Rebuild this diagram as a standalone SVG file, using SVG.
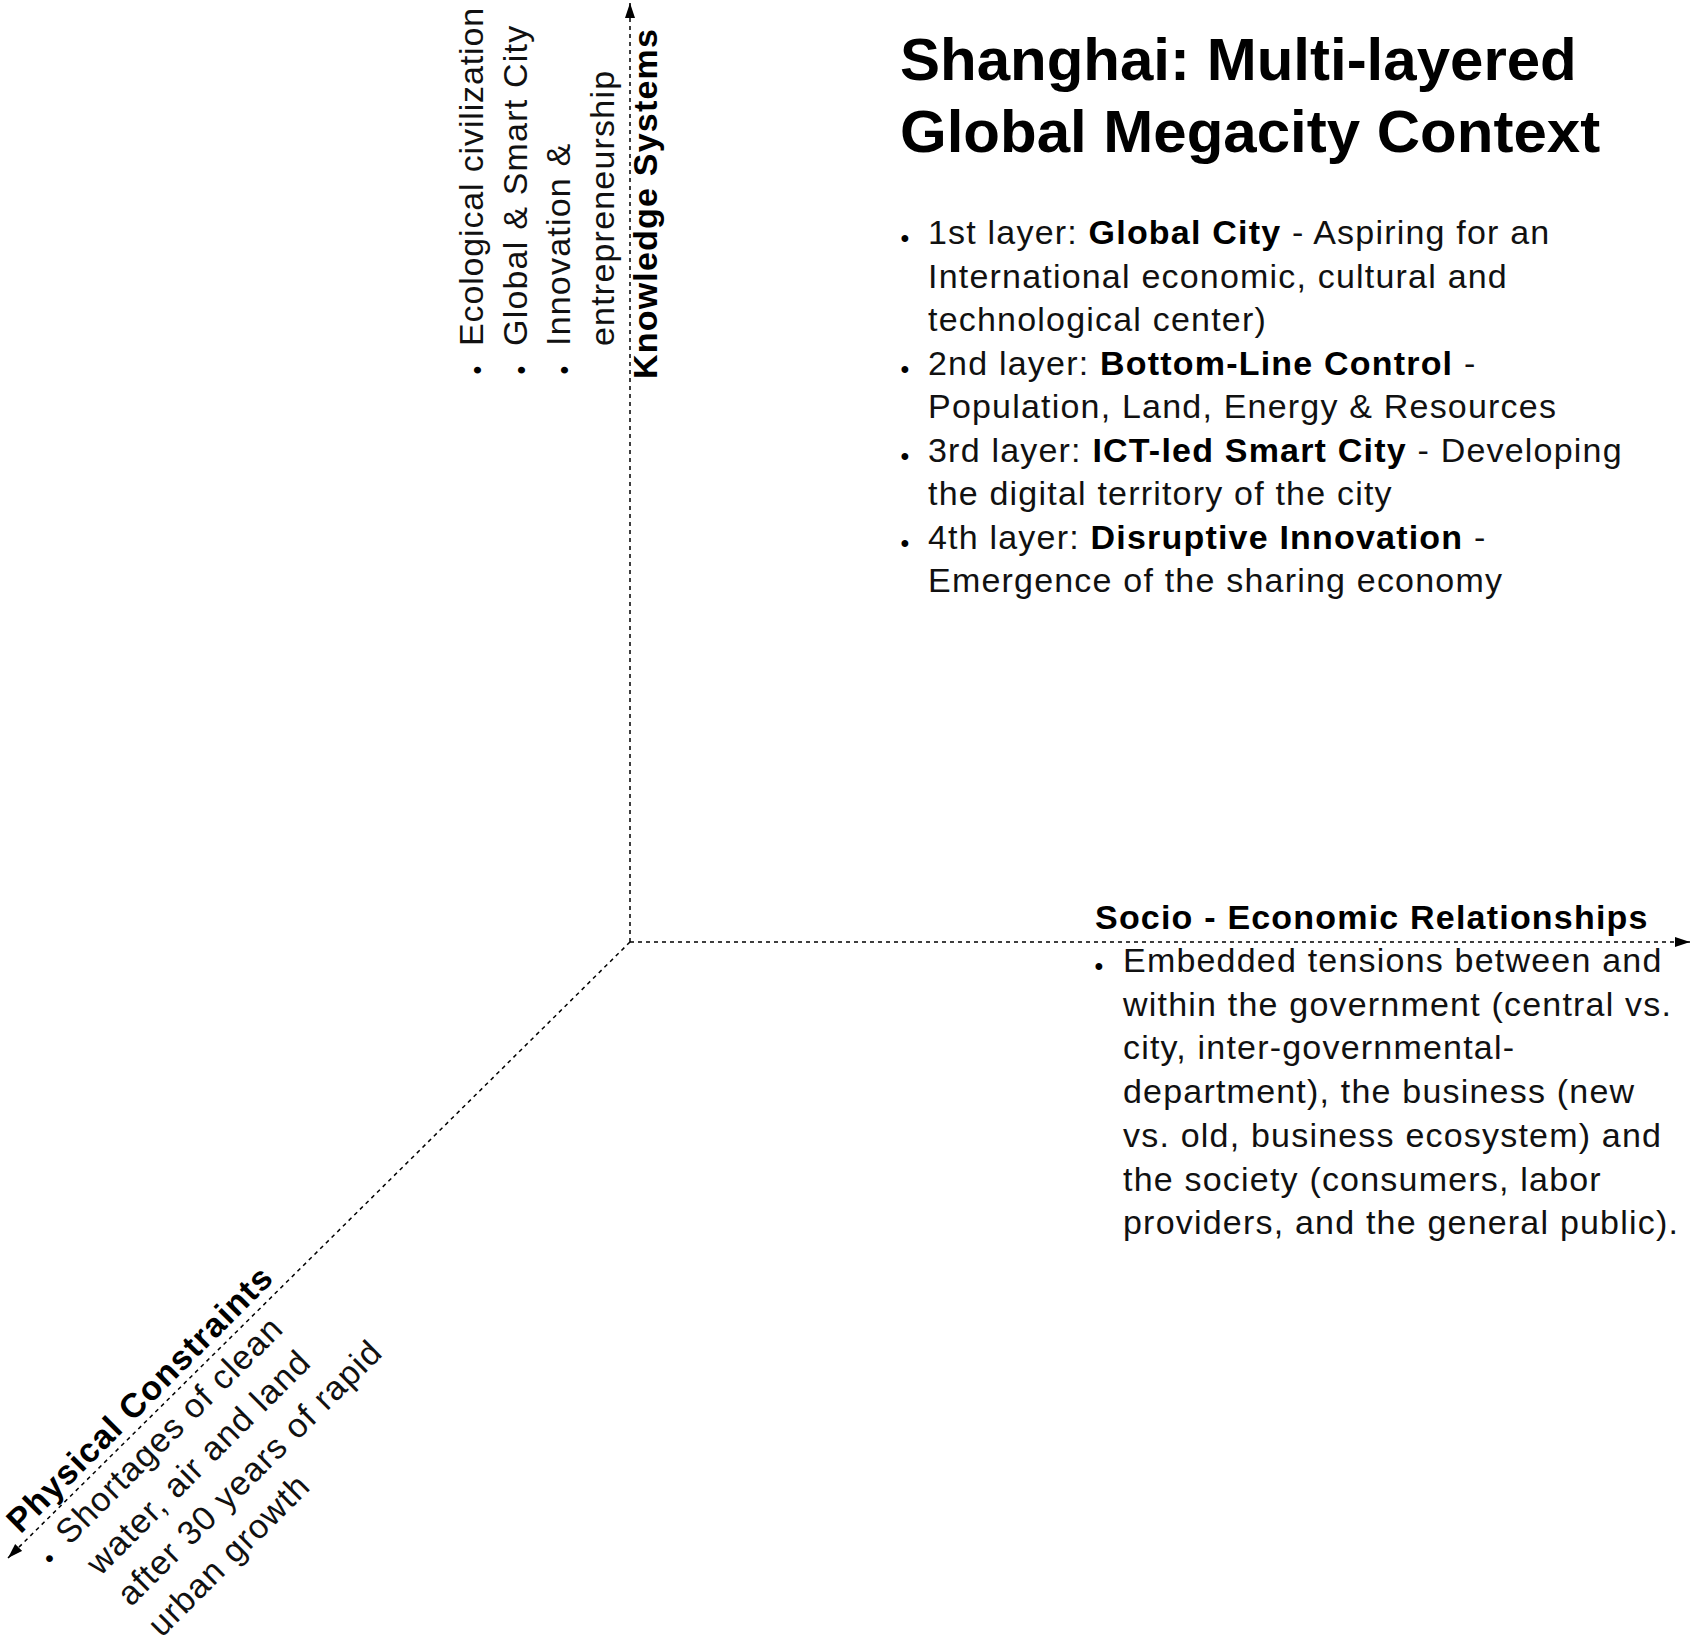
<svg xmlns="http://www.w3.org/2000/svg" width="1693" height="1640" viewBox="0 0 1693 1640">
<style>
.t{font-family:"Liberation Sans",Arial,Helvetica,sans-serif;fill:#111}
.b{font-size:34px;letter-spacing:1.2px}
.tight{letter-spacing:0.85px}
.hb{font-weight:bold;fill:#000}
.title{font-size:60px;font-weight:bold;fill:#000}
.bul{font-size:25px;fill:#000}
.ax{stroke:#000;stroke-width:1.5;stroke-dasharray:4 4;fill:none}
</style>
<defs>
<marker id="arr" markerUnits="userSpaceOnUse" markerWidth="16" markerHeight="11" refX="15" refY="5" orient="auto">
<path d="M0,0 L15,5 L0,10 Z" fill="#000"/>
</marker>
</defs>
<rect width="1693" height="1640" fill="#fff"/>
<g id="connectors">
<line class="ax" x1="630" y1="942" x2="630" y2="3" marker-end="url(#arr)"/>
<line class="ax" x1="630" y1="942" x2="1690" y2="942" marker-end="url(#arr)"/>
<line class="ax" x1="630" y1="942" x2="8" y2="1558" marker-end="url(#arr)"/>
</g>
<g id="title" class="t">
<text class="t title" x="900" y="80">Shanghai: Multi-layered</text>
<text class="t title" x="900" y="152">Global Megacity Context</text>
</g>
<g id="layers" class="t">
<text class="t bul" x="905" y="247" text-anchor="middle">•</text>
<text class="t bul" x="905" y="377.5" text-anchor="middle">•</text>
<text class="t bul" x="905" y="464.5" text-anchor="middle">•</text>
<text class="t bul" x="905" y="551.5" text-anchor="middle">•</text>
<text class="t b" x="928" y="244">1st layer: <tspan class="hb">Global City</tspan> - Aspiring for an</text>
<text class="t b" x="928" y="287.5">International economic, cultural and</text>
<text class="t b" x="928" y="331">technological center)</text>
<text class="t b" x="928" y="374.5">2nd layer: <tspan class="hb">Bottom-Line Control</tspan> -</text>
<text class="t b" x="928" y="418">Population, Land, Energy &amp; Resources</text>
<text class="t b" x="928" y="461.5">3rd layer: <tspan class="hb">ICT-led Smart City</tspan> - Developing</text>
<text class="t b" x="928" y="505">the digital territory of the city</text>
<text class="t b" x="928" y="548.5">4th layer: <tspan class="hb">Disruptive Innovation</tspan> -</text>
<text class="t b" x="928" y="592">Emergence of the sharing economy</text>
</g>
<g id="knowledge-systems" class="t" transform="rotate(-90)">
<text class="t bul" x="-370" y="486" text-anchor="middle">•</text>
<text class="t bul" x="-370" y="529.5" text-anchor="middle">•</text>
<text class="t bul" x="-370" y="573" text-anchor="middle">•</text>
<text class="t b tight" x="-346" y="483">Ecological civilization</text>
<text class="t b" x="-346" y="526.5">Global &amp; Smart City</text>
<text class="t b" x="-346" y="570">Innovation &amp;</text>
<text class="t b" x="-346" y="613.5">entrepreneurship</text>
<text class="t b hb" x="-379" y="657">Knowledge Systems</text>
</g>
<g id="socio-economic" class="t">
<text class="t b hb" x="1095" y="929">Socio - Economic Relationships</text>
<text class="t bul" x="1099" y="975" text-anchor="middle">•</text>
<text class="t b" x="1123" y="972">Embedded tensions between and</text>
<text class="t b" x="1123" y="1015.7">within the government (central vs.</text>
<text class="t b" x="1123" y="1059.4">city, inter-governmental-</text>
<text class="t b" x="1123" y="1103.1">department), the business (new</text>
<text class="t b" x="1123" y="1146.8">vs. old, business ecosystem) and</text>
<text class="t b" x="1123" y="1190.5">the society (consumers, labor</text>
<text class="t b" x="1123" y="1234.2">providers, and the general public).</text>
</g>
<g id="physical-constraints" class="t" transform="translate(8,1558) rotate(-45)">
<text class="t b hb" x="25.6" y="-7.8">Physical Constraints</text>
<text class="t bul" x="29" y="38" text-anchor="middle">•</text>
<text class="t b" x="52" y="35">Shortages of clean</text>
<text class="t b" x="52" y="78.5">water, air and land</text>
<text class="t b" x="52" y="122">after 30 years of rapid</text>
<text class="t b" x="52" y="165.5">urban growth</text>
</g>
</svg>
